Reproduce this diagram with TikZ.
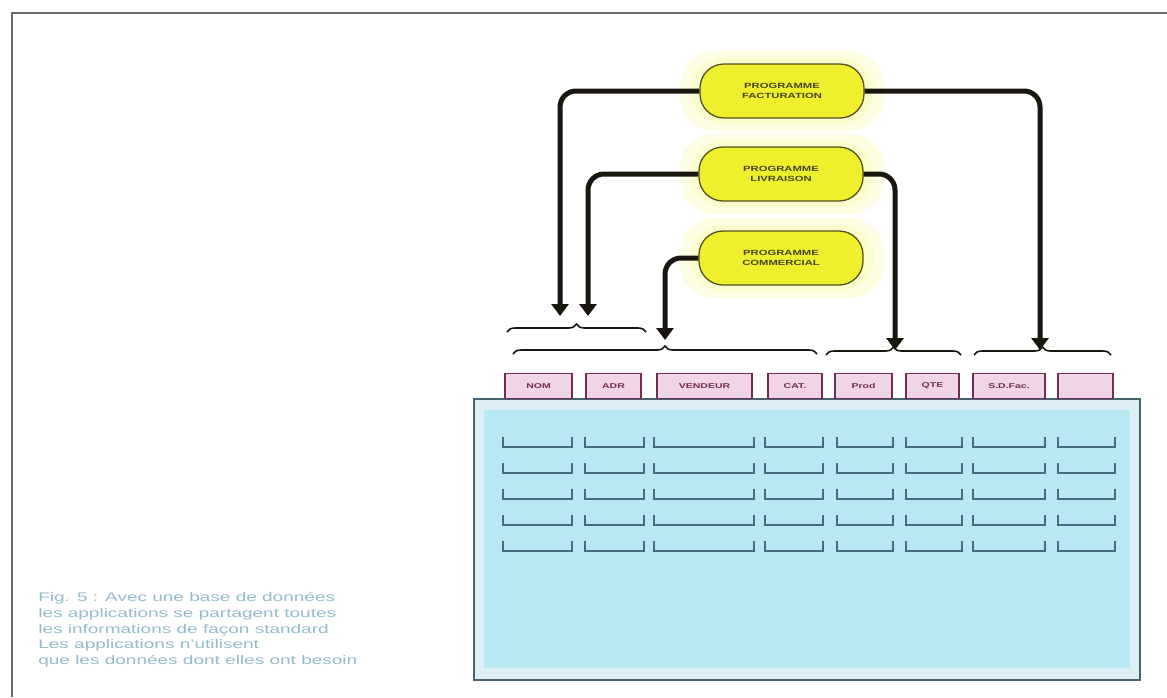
\documentclass[tikz,border=0pt]{standalone}
\usepackage{fontspec}
\setmainfont{Liberation Sans}
\usetikzlibrary{arrows.meta,decorations.pathreplacing}
\definecolor{pillfill}{RGB}{238,240,45}
\definecolor{pillglow}{RGB}{248,250,160}
\definecolor{pilldraw}{RGB}{85,80,30}
\definecolor{pilltext}{RGB}{70,70,20}
\definecolor{conncol}{RGB}{25,22,15}
\definecolor{tabfill}{RGB}{240,212,232}
\definecolor{tabdraw}{RGB}{115,45,85}
\definecolor{boxfill}{RGB}{184,232,242}
\definecolor{boxrim}{RGB}{222,238,246}
\definecolor{boxdraw}{RGB}{70,100,112}
\definecolor{celldraw}{RGB}{70,108,128}
\definecolor{captext}{RGB}{150,188,204}
\definecolor{framecol}{RGB}{105,105,105}
\newcommand{\widetxt}[1]{\scalebox{1.5}[1]{#1}}
\tikzset{
  pill/.style={draw=pilldraw, line width=1.3pt, fill=pillfill, rounded corners=24pt,
    minimum width=164pt, minimum height=54pt, align=center, text=pilltext,
    font=\fontsize{7.5}{10}\selectfont\bfseries},
  glow/.style={fill=pillglow, rounded corners=34pt, opacity=0.3, draw=none},
  conn/.style={draw=conncol, line width=5pt, rounded corners=16pt,
    -{Triangle[width=17pt,length=12pt]}},
  bracestyle/.style={draw=conncol, line width=1.6pt, decorate,
    decoration={brace, amplitude=8pt}},
  tabbox/.style={draw=tabdraw, line width=1.3pt, fill=tabfill, minimum height=25pt,
    inner sep=0pt, text=tabdraw, font=\fontsize{7}{9}\selectfont\bfseries},
  cell/.style={draw=celldraw, line width=1.3pt},
  caption/.style={text=captext, align=left, anchor=north west, inner sep=0pt,
    font=\fontsize{12.5}{15.8}\selectfont}
}
\begin{document}
\begin{tikzpicture}[x=1pt,y=-1pt]
\useasboundingbox (0,0) rectangle (1167,697);
\fill[white] (0,0) rectangle (1167,697);
% frame
\draw[framecol, line width=1.6pt] (12,697) -- (12,13) -- (1167,13);

% glows
\foreach \yy in {91,174,258}{
  \fill[glow] (680,\yy-40) rectangle (884,\yy+40);
  \fill[glow] (690,\yy-33) rectangle (874,\yy+33);
}
% pills
\node[pill] (fact) at (782,91) {\widetxt{PROGRAMME}\\\widetxt{FACTURATION}};
\node[pill] (livr) at (781,174) {\widetxt{PROGRAMME}\\\widetxt{LIVRAISON}};
\node[pill] (comm) at (781,258) {\widetxt{PROGRAMME}\\\widetxt{COMMERCIAL}};

% arrow targets
\coordinate (a1) at (560,316);
\coordinate (a2) at (588,316);
\coordinate (a3) at (665,340);
\coordinate (b2) at (895,350);
\coordinate (b1) at (1040,350);
\draw[conn] (fact.west) -| (a1);
\draw[conn] (fact.east) -| (b1);
\draw[conn] (livr.west) -| (a2);
\draw[conn] (livr.east) -| (b2);
\draw[conn] (comm.west) -| (a3);

% braces
\draw[bracestyle] (507,332) -- (646,332);
\draw[bracestyle] (513,354) -- (817,354);
\draw[bracestyle] (826,355) -- (961,355);
\draw[bracestyle] (974,355) -- (1111,355);

% table box
\draw[draw=boxdraw, fill=boxrim, line width=1.6pt] (474,399) rectangle (1140,680);
\fill[boxfill] (484,410) rectangle (1130,668);

% tabs
\node[tabbox, minimum width=67pt] (nom) at (538.5,386) {\widetxt{NOM}};
\node[tabbox, minimum width=55pt] (adr) at (613.5,386) {\widetxt{ADR}};
\node[tabbox, minimum width=95pt] (vend) at (704.5,386) {\widetxt{VENDEUR}};
\node[tabbox, minimum width=54pt] (cat) at (795,386) {\widetxt{CAT.}};
\node[tabbox, minimum width=57pt] (prod) at (863.5,386) {\widetxt{Prod}};
\node[tabbox, minimum width=53pt] (qte) at (932.5,386) {\widetxt{QTE}};
\node[tabbox, minimum width=72pt] (sdfac) at (1009,386) {\widetxt{S.D.Fac.}};
\node[tabbox, minimum width=55pt] (last) at (1085.5,386) {};

% cells
\foreach \xa/\xb in {503/572,585/644,654/754,765/823,837/893,906/962,973/1045,1058/1115}{
  \foreach \yy in {447,473,499,525,551}{
    \draw[cell] (\xa,\yy-10) -- (\xa,\yy) -- (\xb,\yy) -- (\xb,\yy-10);
  }
}

% caption
\node[caption, xscale=1.52, transform shape] (cap) at (38,592)
 {Fig. 5 : Avec une base de données\\
  les applications se partagent toutes\\
  les informations de façon standard\\
  Les applications n'utilisent\\
  que les données dont elles ont besoin};
\end{tikzpicture}
\end{document}
